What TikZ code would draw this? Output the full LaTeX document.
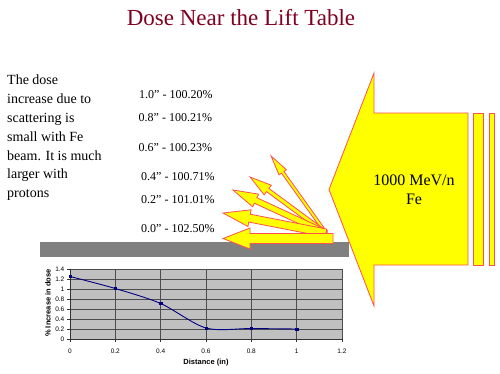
\documentclass[tikz,border=0pt]{standalone}
\usepackage{fontspec}
\setmainfont{Liberation Serif}
\setsansfont{Liberation Sans}
\usetikzlibrary{plotmarks}
\definecolor{titlered}{RGB}{128,0,32}
\definecolor{rayline}{RGB}{255,80,80}
\definecolor{beamfill}{RGB}{255,255,0}
\definecolor{tablegray}{RGB}{128,128,128}
\definecolor{plotbg}{RGB}{192,192,192}
\definecolor{curveblue}{RGB}{0,0,128}
\tikzset{
	ray/.style={draw=rayline, fill=beamfill, line width=0.8pt, line join=miter},
	gridline/.style={draw=black!70, line width=0.5pt},
	ticklabel/.style={font=\sffamily\fontsize{6.5}{7.5}\selectfont, inner sep=1pt},
	pctlabel/.style={anchor=base west, inner sep=0pt, font=\fontsize{12}{14}\selectfont},
}
\newcommand\fanray[6]{% origin, angle, length, shaft, head, head length
	\begin{scope}[shift={#1}, rotate=#2]
		\draw[ray] (0,-#4) -- ({#3-#6},-#4) -- ({#3-#6},-#5) -- (#3,0)
			-- ({#3-#6},#5) -- ({#3-#6},#4) -- (0,#4) -- cycle;
	\end{scope}}
\begin{document}
\begin{tikzpicture}[x=1pt, y=-1pt]
	\useasboundingbox (0,0) rectangle (500,373);
	\node [anchor=base, inner sep=0pt, text=titlered, font=\fontsize{23}{26}\selectfont] (title) at (241,25) {Dose Near the Lift Table};
	\node [anchor=north west, align=left, inner sep=0pt, font=\fontsize{14}{18.9}\selectfont] (note) at (7,74.5)
		{The dose\\increase due to\\scattering is\\small with Fe\\beam. It is much\\larger with\\protons};
	\foreach \x/\y/\t [count=\i] in {139/98.3/{1.0” - 100.20\%}, 138.5/121.7/{0.8” - 100.21\%},
			138.5/151.7/{0.6” - 100.23\%}, 141/180/{0.4” - 100.71\%},
			141/203.3/{0.2” - 101.01\%}, 141/232.7/{0.0” - 102.50\%}}{%
			\node [pctlabel] (pct\i) at (\x,\y) {\t};
			}
	% lift table
	\fill [tablegray] (40,242) rectangle (349,257);
	% scattered rays
	\fanray{(326,233)}{125.5}{94.6}{1.5}{4.5}{20}
	\fanray{(326,233)}{143.6}{94.4}{2}{6}{22}
	\fanray{(326,233)}{155.2}{102.5}{3}{7}{25}
	\fanray{(326,233)}{169}{104.9}{4}{8.5}{27}
	\fanray{(333,238.5)}{180}{110}{5}{10.5}{27}
	% incoming beam
	\draw [ray] (329,189.5) -- (374,73) -- (374,113) -- (468,113) -- (468,265) -- (374,265) -- (374,306) -- cycle;
	\draw [ray] (473,113) rectangle (483,265);
	\draw [ray] (489,113) rectangle (494,265);
	\node [align=center, inner sep=0pt, font=\fontsize{16}{19}\selectfont] (beam) at (414,190) {1000 MeV/n\\Fe};
	% dose plot
	\begin{scope}[shift={(70,339)}, x=226.67pt, y=50pt]
		\fill [plotbg] (0,0) rectangle (1.2,1.4);
		\foreach \v in {0.2,0.4,0.6,0.8,1,1.2,1.4}
			\draw [gridline] (0,\v) -- (1.2,\v);
		\foreach \d in {0.2,0.4,0.6,0.8,1,1.2}
			\draw [gridline] (\d,0) -- (\d,1.4);
		\draw [black!80, line width=0.6pt] (0,1.4) -- (0,0) -- (1.2,0);
		\foreach \v [count=\i] in {0,0.2,0.4,0.6,0.8,1,1.2,1.4}{%
			\draw [black!80, line width=0.6pt] (-3pt,\v) -- (0,\v);
			\node [ticklabel, left=4.5pt] (yt\i) at (0,\v) {\v};
			}
		\foreach \d [count=\i] in {0,0.2,0.4,0.6,0.8,1,1.2}{%
			\draw [black!80, line width=0.6pt] (\d,0) -- (\d,-3pt);
			\node [ticklabel] (xt\i) at (\d,-0.25) {\d};
			}
		\draw [curveblue, line width=0.9pt] plot [smooth, tension=0.5]
			coordinates {(0,1.25) (0.2,1.01) (0.4,0.71) (0.6,0.22) (0.8,0.21) (1,0.2)};
		\draw [curveblue] plot [only marks, mark=square*, mark size=1.1pt]
			coordinates {(0,1.25) (0.2,1.01) (0.4,0.71) (0.6,0.22) (0.8,0.21) (1,0.2)};
	\end{scope}
	\node [font=\sffamily\bfseries\fontsize{7.5}{9}\selectfont, inner sep=0pt] (xlabel) at (206,363) {Distance (in)};
	\node [font=\sffamily\bfseries\fontsize{7.5}{9}\selectfont, inner sep=0pt, rotate=90] (ylabel) at (48,303) {\% Increase in dose};
\end{tikzpicture}
\end{document}
